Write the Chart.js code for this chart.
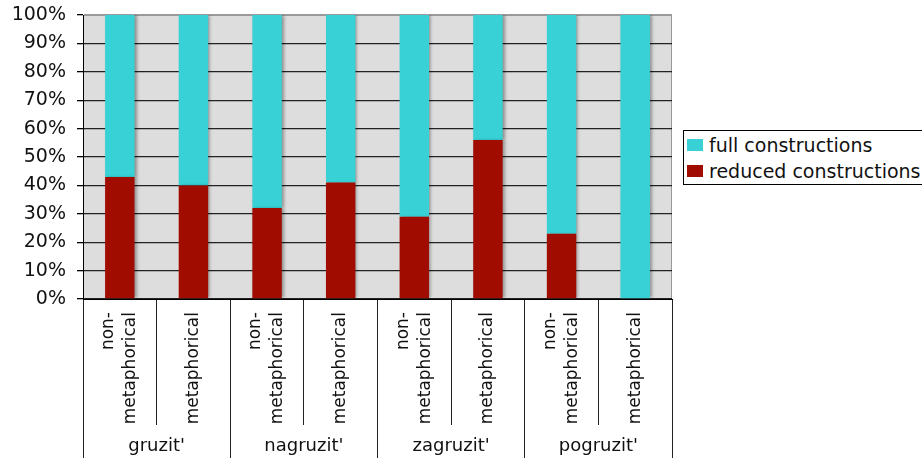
<!DOCTYPE html>
<html><head><meta charset="utf-8">
<script src="https://cdn.jsdelivr.net/npm/chart.js@4/dist/chart.umd.min.js"></script>
<style>
html,body{margin:0;padding:0;background:#fff;overflow:hidden;}
#wrap{position:relative;width:922px;height:463px;overflow:hidden;}
canvas{display:block;}
#legend{position:absolute;left:683px;top:130px;height:55px;width:270px;border:1px solid #000;box-sizing:border-box;font-family:"DejaVu Sans";font-size:19px;color:#111;background:#fff;}
.item{position:absolute;left:3px;height:26px;display:flex;align-items:center;white-space:nowrap;}
.sw{width:16px;height:12px;margin-right:6px;flex:none;}
</style></head><body>
<div id="wrap"><canvas id="c" width="922" height="463"></canvas><div id="legend"></div></div>
<script>
const subLabels = [["non-","metaphorical"],["","metaphorical"],["non-","metaphorical"],["","metaphorical"],["non-","metaphorical"],["","metaphorical"],["non-","metaphorical"],["","metaphorical"]];
const groupLabels = ["gruzit'","nagruzit'","zagruzit'","pogruzit'"];
const reducedValues = [43,40,32,41,29,56,23,0];
const fullValues = [57,60,68,59,71,44,77,100];
const yTickLabels = ["0%","10%","20%","30%","40%","50%","60%","70%","80%","90%","100%"];
const seriesNames = ["full constructions","reduced constructions"];
const seriesColors = ["#38D2D6","#A00C00"];

const legend = document.getElementById('legend');
seriesNames.forEach((n,i)=>{
  const d=document.createElement('div');d.className='item';d.style.top=(1+i*26)+'px';
  const s=document.createElement('span');s.className='sw';s.style.background=seriesColors[i];
  const t=document.createElement('span');t.textContent=n;
  d.appendChild(s);d.appendChild(t);legend.appendChild(d);
});

const bgPlugin={id:'bg',beforeDraw(chart){const a=chart.chartArea,c=chart.ctx;c.save();c.fillStyle='#DDDDDD';c.fillRect(a.left,a.top,a.right-a.left,a.bottom-a.top);c.strokeStyle='#9a9a9a';c.lineWidth=1;c.strokeRect(a.left+0.5,a.top+0.5,a.right-a.left-1,a.bottom-a.top-1);c.restore();}};
const shadowPlugin={id:'shadow',beforeDatasetsDraw(chart){const c=chart.ctx;c.save();c.shadowColor='rgba(0,0,0,0.35)';c.shadowBlur=3;c.shadowOffsetX=2;c.shadowOffsetY=0;},afterDatasetsDraw(chart){chart.ctx.restore();}};
function noPad(s){s.paddingTop=0;s.paddingBottom=0;s.paddingLeft=0;s.paddingRight=0;}

const FONT="DejaVu Sans";
const SUBSIZE=17, LINE=22;
new Chart(document.getElementById('c'),{
  type:'bar',
  data:{labels:subLabels,datasets:[
    {label:seriesNames[1],data:reducedValues,backgroundColor:seriesColors[1],barPercentage:0.4,categoryPercentage:1},
    {label:seriesNames[0],data:fullValues,backgroundColor:seriesColors[0],barPercentage:0.4,categoryPercentage:1}
  ]},
  options:{
    responsive:false,devicePixelRatio:1,animation:false,
    layout:{padding:{top:15,right:250,bottom:0,left:0}},
    plugins:{legend:{display:false},tooltip:{enabled:false}},
    scales:{
      x:{stacked:true,position:'bottom',weight:0,
        grid:{display:true,drawOnChartArea:false,offset:true,tickLength:126,color:'#222',lineWidth:1},
        border:{display:true,color:'#000',width:1},
        ticks:{autoSkip:false,minRotation:90,maxRotation:90,padding:-113,labelOffset:-LINE/2,color:'#111',
          font:(ctx)=>({family:FONT,size:SUBSIZE,lineHeight:(ctx.index%2===0?LINE:LINE/2)/SUBSIZE})},
        afterFit(s){s.height=126;noPad(s);}
      },
      x2:{type:'category',labels:groupLabels,position:'bottom',weight:1,offset:true,
        grid:{display:true,drawOnChartArea:false,offset:true,tickLength:33,color:'#222',lineWidth:1},
        border:{display:false},
        ticks:{padding:-22,color:'#111',font:{family:FONT,size:18}},
        afterFit(s){s.height=38;noPad(s);}
      },
      y:{stacked:true,min:0,max:100,
        grid:{color:(ctx)=>ctx.tick&&ctx.tick.value===100?'#9a9a9a':'#222',tickColor:'#000',tickLength:6,lineWidth:1.3},
        border:{display:true,color:'#000',width:1},
        ticks:{stepSize:10,padding:11,color:'#111',font:{family:FONT,size:19},callback:(v,i)=>yTickLabels[i]},
        afterFit(s){s.width=83;noPad(s);}
      }
    }
  },
  plugins:[bgPlugin,shadowPlugin]
});
</script>
</body></html>
